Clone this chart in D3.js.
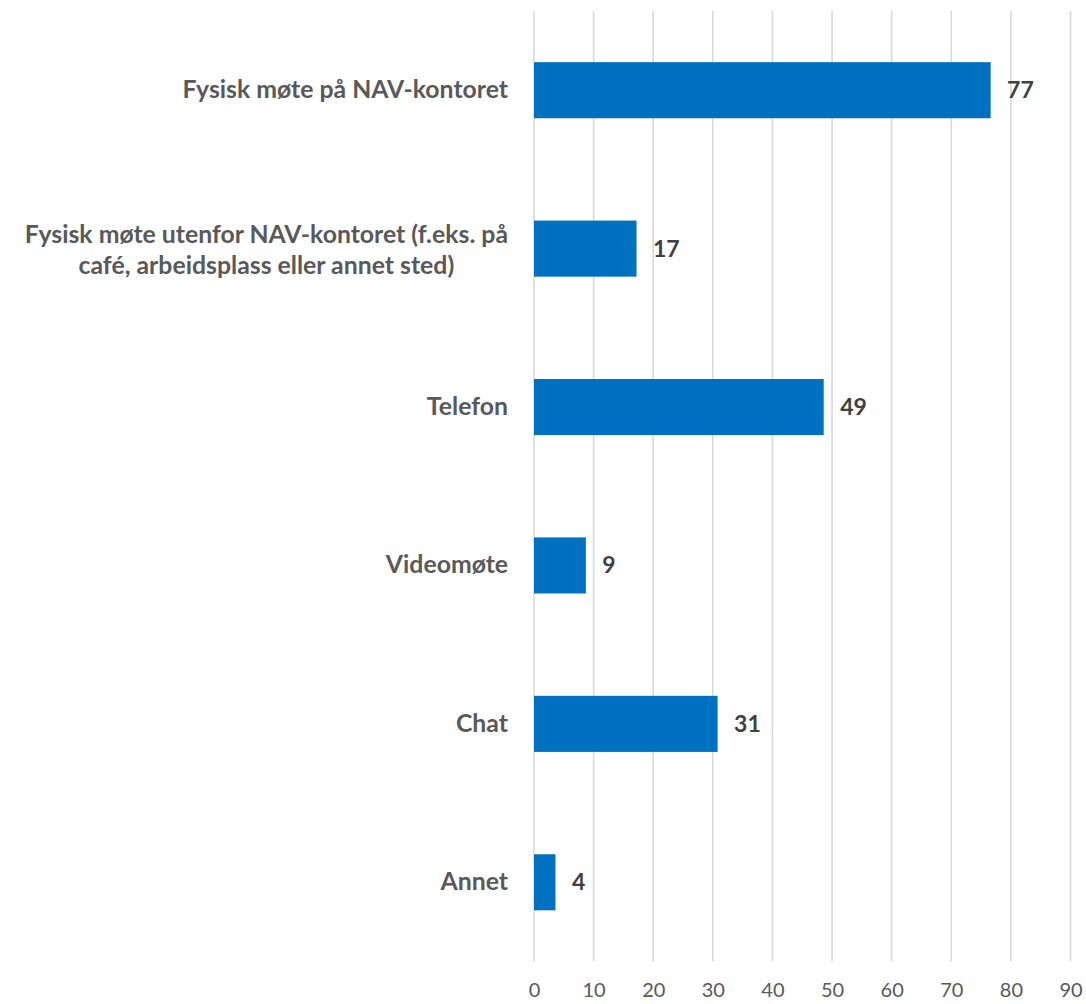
<!DOCTYPE html>
<html><head><meta charset="utf-8">
<script src="https://cdn.jsdelivr.net/npm/d3@7"></script>
<style>body{margin:0;background:#fff}svg{display:block}</style>
</head><body>
<script>
const categories = ["Fysisk møte på NAV-kontoret", "Fysisk møte utenfor NAV-kontoret (f.eks. på|café, arbeidsplass eller annet sted)", "Telefon", "Videomøte", "Chat", "Annet"];
const values = [76.6, 17.2, 48.6, 8.7, 30.8, 3.6];
const valueLabels = ["77", "17", "49", "9", "31", "4"];
const ticks = [0, 10, 20, 30, 40, 50, 60, 70, 80, 90];

const W = 1086, H = 1004;
const mLeft = 534, mRight = 1070.5, mTop = 11, mBottom = 961.5;
const font = "Lato, 'Open Sans', sans-serif";

const svg = d3.select("body").append("svg").attr("width", W).attr("height", H);
const x = d3.scaleLinear().domain([0, 90]).range([mLeft, mRight]);
const y = d3.scaleBand().domain(categories).range([mTop, mBottom]).paddingInner(0.646).paddingOuter(0.323);

svg.append("g").selectAll("line").data(ticks).join("line")
  .attr("x1", d => x(d)).attr("x2", d => x(d))
  .attr("y1", mTop).attr("y2", mBottom)
  .attr("stroke", "#d9d9d9").attr("stroke-width", 1.6);

const xAxis = d3.axisBottom(x).tickValues(ticks).tickSize(0).tickPadding(0);
const gx = svg.append("g").attr("transform", `translate(0,${mBottom})`).call(xAxis);
gx.select(".domain").remove();
gx.selectAll("text").attr("y", 35.5).attr("dy", null)
  .attr("font-family", font).attr("font-size", 20).attr("fill", "#595959");

svg.append("g").selectAll("rect").data(categories).join("rect")
  .attr("x", x(0)).attr("y", d => y(d))
  .attr("width", (d, i) => x(values[i]) - x(0))
  .attr("height", y.bandwidth())
  .attr("fill", "#0070C0");

svg.append("g").selectAll("text").data(categories).join("text")
  .attr("x", (d, i) => x(values[i]) + 16.5)
  .attr("y", d => y(d) + y.bandwidth() / 2 + 8)
  .attr("font-family", font).attr("font-size", 23).attr("font-weight", "bold")
  .attr("fill", "#404040")
  .text((d, i) => valueLabels[i]);

const yAxis = d3.axisLeft(y).tickSize(0).tickPadding(0);
const gy = svg.append("g").attr("transform", `translate(${mLeft - 26},0)`).call(yAxis);
gy.select(".domain").remove();
gy.selectAll(".tick text").each(function(d) {
  const t = d3.select(this);
  const lines = d.split("|");
  t.text(null).attr("font-family", font).attr("font-size", 24.8).attr("font-weight", "bold")
    .attr("fill", "#595959").attr("dy", null).attr("y", lines.length > 1 ? -6 : 8).attr("text-anchor", "end");
  lines.forEach((ln, i) => {
    t.append("tspan").attr("x", 0).attr("dy", i === 0 ? 0 : 31).text(ln);
  });
  if (lines.length > 1) {
    const w = this.getBBox().width;
    t.attr("text-anchor", "middle");
    t.selectAll("tspan").attr("x", -w / 2);
  }
});
</script>
</body></html>
